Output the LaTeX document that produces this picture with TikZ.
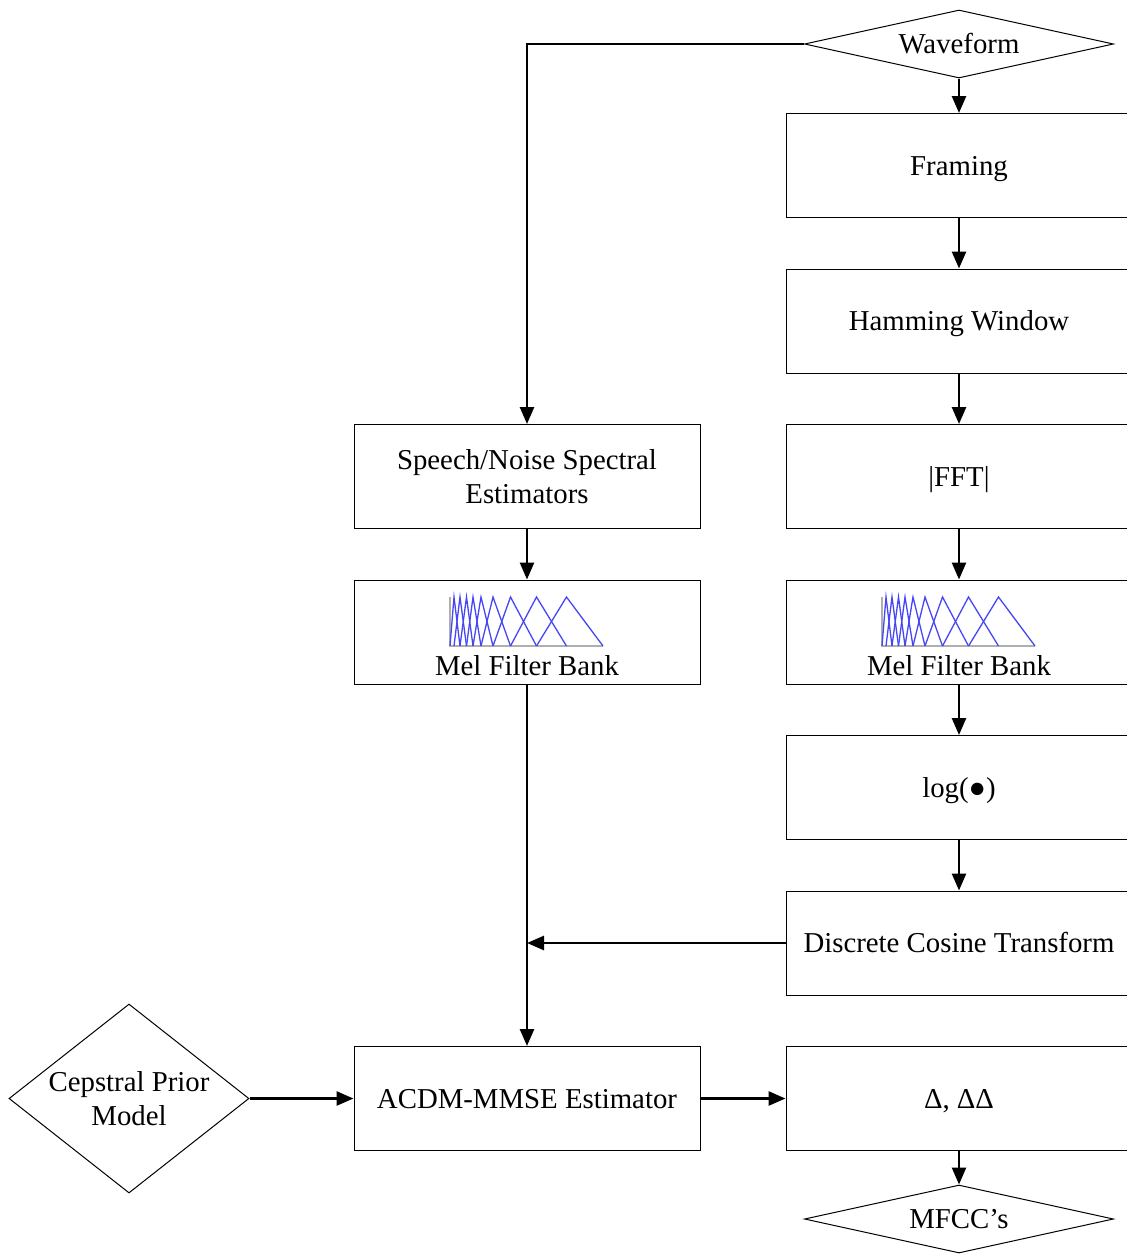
\documentclass[tikz,border=0pt]{standalone}
\usepackage{fontspec}
\setmainfont{Liberation Serif}
\usetikzlibrary{arrows.meta,shapes.geometric}
\definecolor{melblue}{RGB}{70,70,245}
\definecolor{melgray}{RGB}{175,175,175}
\tikzset{
  block/.style={draw,line width=1pt,minimum width=346pt,minimum height=104pt,inner sep=0pt,align=center},
  oneline/.style={text height=19pt,text depth=0pt},
  flowchoice/.style={draw,line width=1pt,diamond,inner sep=0pt},
  flow/.style={line width=2.6pt,-{Triangle[length=17pt,width=14pt]}},
  txt/.style={inner sep=0pt,align=center}
}
% triangular mel filter bank icon, lower-left corner at #1,#2
\newcommand{\melicon}[2]{%
  \draw[melgray,line width=2pt] (#1,#2-49) -- (#1,#2) -- (#1+153,#2);
  \foreach \a/\b/\c in {0/4/10, 4/10/16.5, 10/16.5/23, 16.5/23/31, 23/31/43,
                        31/43/60.5, 43/60.5/86.5, 60.5/86.5/116.5, 86.5/116.5/153}
    \draw[melblue,line width=1.3pt,line join=miter]
      (#1+\a,#2) -- (#1+\b,#2-49) -- (#1+\c,#2);
}
\begin{document}
\begin{tikzpicture}[x=1pt,y=-1pt,font=\fontsize{28.8}{34}\selectfont]
\useasboundingbox (0,0) rectangle (1127,1254);

% right column
\node[flowchoice,minimum width=309pt,minimum height=68pt] (wave) at (959,44) {};
\node[txt,oneline] (wavet) at (959,44) {Waveform};
\node[block,oneline] (frame) at (959,165.5) {Framing};
\node[block,oneline] (ham)   at (959,321) {Hamming Window};
\node[block,oneline] (fft)   at (959,476.5) {|FFT|};
\node[block] (melR)  at (959,632) {};
\node[txt] (melRt) at (959,666) {Mel Filter Bank};
\node[block,oneline] (log)   at (959,787.5) {log(●)};
\node[block,oneline] (dct)   at (959,943) {Discrete Cosine Transform};
\node[block,oneline] (delta) at (959,1098.5) {Δ, ΔΔ};
\node[flowchoice,minimum width=309pt,minimum height=68pt] (mfcc) at (959,1219) {};
\node[txt,oneline] (mfcct) at (959,1219) {MFCC’s};

% left column
\node[block] (spec) at (527,476.5) {Speech/Noise Spectral\\Estimators};
\node[block] (melL) at (527,632) {};
\node[txt] (melLt) at (527,666) {Mel Filter Bank};
\node[block,oneline] (acdm) at (527,1098.5) {ACDM-MMSE Estimator};
\node[flowchoice,minimum width=240pt,minimum height=189pt] (prior) at (129,1098.5) {};
\node[txt] (priort) at (129,1098.5) {Cepstral Prior\\Model};

% filter bank icons
\melicon{450}{646}
\melicon{882}{646}

% connectors
\draw[flow] (wave.west) -| (spec.north);
\draw[flow] (wave.south) -- (frame.north);
\draw[flow] (frame) -- (ham);
\draw[flow] (ham) -- (fft);
\draw[flow] (fft) -- (melR);
\draw[flow] (melR) -- (log);
\draw[flow] (log) -- (dct);
\draw[flow] (spec) -- (melL);
\draw[flow] (melL) -- (acdm);
\coordinate (join) at (melL.south |- dct.west);
\draw[flow] (dct.west) -- (join);
\draw[flow] (prior.east) -- (acdm.west);
\draw[flow] (acdm) -- (delta);
\draw[flow] (delta.south) -- (mfcc.north);
\end{tikzpicture}
\end{document}
